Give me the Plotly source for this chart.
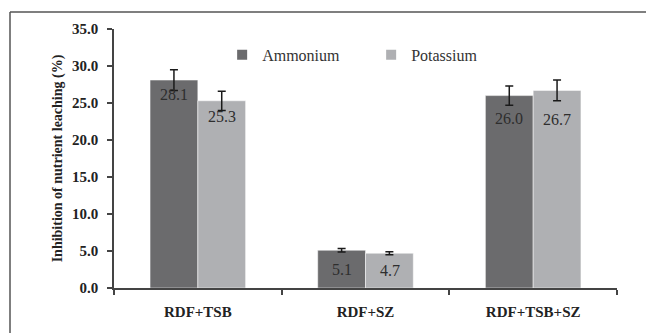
import plotly.graph_objects as go

categories = ["RDF+TSB", "RDF+SZ", "RDF+TSB+SZ"]
ammonium = [28.1, 5.1, 26.0]
ammonium_err = [1.4, 0.25, 1.3]
potassium = [25.3, 4.7, 26.7]
potassium_err = [1.3, 0.2, 1.4]
y_ticks = [0, 5, 10, 15, 20, 25, 30, 35]

# label placement (pixels below the bar top), style only
ammonium_label_drop = [14, 19, 23]
potassium_label_drop = [16, 17, 29]

serif = "Times New Roman, Liberation Serif, serif"

fig = go.Figure()
fig.add_trace(go.Bar(
    name="Ammonium", x=categories, y=ammonium,
    marker=dict(color="#6b6b6d", line=dict(color="#ffffff", width=0.5)),
    error_y=dict(type="data", array=ammonium_err, color="#1a1a1a", thickness=1.5, width=4),
))
fig.add_trace(go.Bar(
    name="Potassium", x=categories, y=potassium,
    marker=dict(color="#afb0b3", line=dict(color="#ffffff", width=0.5)),
    error_y=dict(type="data", array=potassium_err, color="#1a1a1a", thickness=1.5, width=4),
))

annotations = []
for cat, a, p, da, dp in zip(categories, ammonium, potassium,
                             ammonium_label_drop, potassium_label_drop):
    annotations.append(dict(x=cat, y=a, xref="x", yref="y", text=f"{a:.1f}",
                            showarrow=False, xshift=-24, yshift=-da, yanchor="middle",
                            font=dict(family=serif, size=16, color="#2e2e2e")))
    annotations.append(dict(x=cat, y=p, xref="x", yref="y", text=f"{p:.1f}",
                            showarrow=False, xshift=24, yshift=-dp, yanchor="middle",
                            font=dict(family=serif, size=16, color="#2e2e2e")))

fig.update_layout(
    width=646, height=333,
    margin=dict(l=114, r=29, t=29, b=45),
    paper_bgcolor="white", plot_bgcolor="white",
    barmode="group", bargap=0.43, bargroupgap=0,
    font=dict(family=serif, size=15, color="#222"),
    annotations=annotations,
    legend=dict(orientation="h", x=0.215, y=0.90, xanchor="left", yanchor="middle",
                font=dict(family=serif, size=16, color="#333"),
                entrywidth=104, entrywidthmode="pixels",
                bgcolor="rgba(0,0,0,0)", itemsizing="constant"),
    xaxis=dict(showline=True, linecolor="#444", linewidth=1.5, ticks="outside",
               tickson="boundaries", ticklen=5, tickcolor="#444", tickwidth=1.5,
               tickfont=dict(family=serif, size=15, color="#222", weight="bold"),
               showgrid=False, ticklabelstandoff=9),
    yaxis=dict(range=[0, 35], tickvals=y_ticks, tickformat=".1f",
               showline=True, linecolor="#444", linewidth=1.5, ticks="outside",
               ticklen=5, tickcolor="#444", tickwidth=1.5, showgrid=False, zeroline=False,
               ticklabelstandoff=6,
               tickfont=dict(family=serif, size=15, color="#222", weight="bold"),
               title=dict(text="Inhibition of nutrient leaching (%)",
                          font=dict(family=serif, size=14, color="#222", weight="bold"),
                          standoff=6)),
    shapes=[
        dict(type="line", xref="paper", yref="paper", x0=-104/503, x1=29/503 + 1.0,
             y0=1 + 17/259, y1=1 + 17/259, line=dict(color="#555", width=1.5)),
        dict(type="line", xref="paper", yref="paper", x0=-104/503, x1=-104/503,
             y0=1 + 17/259, y1=-45/259, line=dict(color="#555", width=1.5)),
    ],
)

fig.write_html("out.html")
